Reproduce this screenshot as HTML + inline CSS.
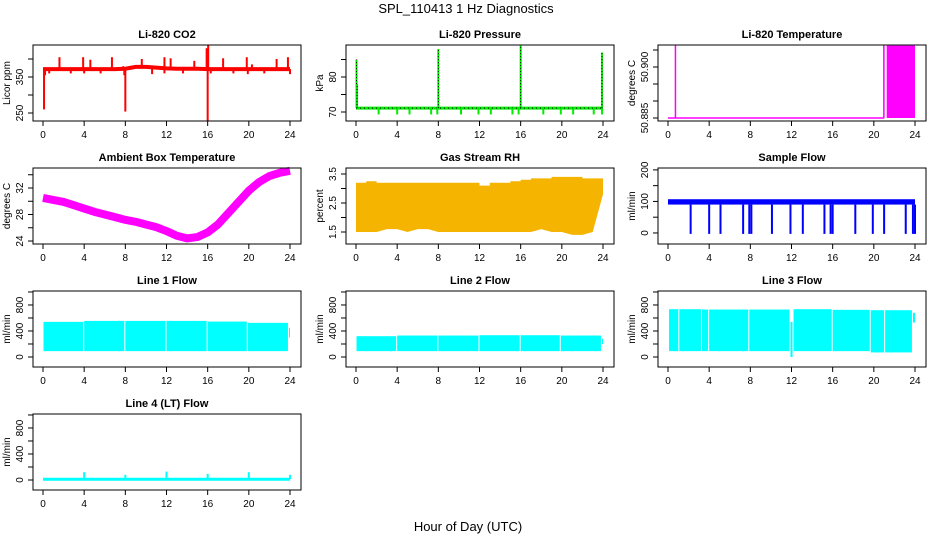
<!DOCTYPE html>
<html><head><meta charset="utf-8"><style>
body{margin:0;background:#fff;}
svg{display:block;font-family:"Liberation Sans",sans-serif;}
</style></head><body>
<svg id="chart" width="936" height="540" viewBox="0 0 936 540">
<text x="466" y="13" text-anchor="middle" font-size="13">SPL_110413  1 Hz Diagnostics</text>
<text x="468" y="531" text-anchor="middle" font-size="13">Hour of Day (UTC)</text>
</svg>
<script>
// ---- data ----
const xTicks = [0,4,8,12,16,20,24];
// CO2
const co2Base = [372,372,372,372,372,372,372,372,373,378,378,376,374,373,373,373,372,372,372,372,372,372,372,372,372];
const co2Spikes = [[0.1,260],[0.2,355],[0.6,360],[1.6,405],[2.7,360],[3.9,405],[4.0,360],[4.6,398],[5.6,360],[6.7,405],[7.8,380],[7.9,355],[8.0,254],[9.6,400],[10.6,358],[11.8,405],[11.8,360],[12.4,402],[13.6,360],[14.7,395],[15.9,430],[16.0,228],[16.05,439],[16.3,360],[17.5,402],[18.5,360],[19.8,405],[19.9,358],[20.3,385],[21.5,360],[22.7,400],[23.8,405],[24.0,358]];
// Pressure
const presBase = 71.1;
const presDips = [2.2,4.0,5.2,7.3,7.9,10.2,11.9,13.1,15.2,15.8,18.2,19.9,21.1,23.1,23.9];
const presSpikes = [[0.05,85],[0.1,78],[8.0,88],[16.0,89],[23.9,87]];
// Li-820 temperature
const tempBase = 50.885;
const tempHigh = 50.9063;
const tempBlocks = [[0.65,0.72],[20.9,21.05],[21.25,24.0]];
// Ambient
const ambient = [30.5,30.2,29.9,29.4,28.9,28.4,28.0,27.6,27.2,26.9,26.5,26.1,25.5,24.8,24.4,24.6,25.3,26.5,28.2,29.9,31.6,32.9,33.8,34.3,34.6];
// RH
const rhTop = [3.2,3.25,3.2,3.2,3.2,3.2,3.2,3.2,3.2,3.2,3.2,3.2,3.1,3.2,3.2,3.25,3.3,3.35,3.35,3.4,3.4,3.4,3.35,3.35,3.2];
const rhLow = [1.5,1.5,1.5,1.6,1.6,1.5,1.6,1.6,1.5,1.5,1.5,1.5,1.5,1.5,1.5,1.5,1.5,1.5,1.6,1.5,1.5,1.4,1.4,1.5,2.8];
// Sample flow
const sampleLow = 90, sampleHigh = 107;
const sampleDips = [2.2,4.0,5.1,7.3,7.9,8.1,10.1,11.9,13.1,15.2,15.8,16.0,18.2,19.9,21.0,23.1,23.8,24.0];
// Line flows [start, end, low, high]
const line1Segs = [[0.05,3.9,90,540],[4.0,7.9,90,555],[8.0,11.9,90,555],[12.0,15.9,90,555],[16.0,19.8,90,545],[19.9,23.8,90,525],[23.9,24.0,300,450]];
const line2Segs = [[0.05,3.9,90,320],[4.0,7.9,90,330],[8.0,11.9,90,330],[12.0,15.9,90,335],[16.0,19.8,90,335],[19.9,23.8,90,330],[23.9,24.0,200,280]];
const line3Segs = [[0.1,1.0,90,735],[1.1,3.2,90,735],[3.3,3.9,90,730],[4.0,7.8,90,730],[7.9,11.8,90,730],[11.9,12.1,0,540],[12.2,15.9,90,735],[16.0,19.6,90,725],[19.7,21.0,70,720],[21.1,23.7,70,720],[23.8,24.0,530,680]];
const line4Base = 12;
const line4Spikes = [[4.0,120],[8.0,80],[12.0,130],[16.0,95],[20.0,120],[24.0,80]];

// ---- layout ----
const NS = "http://www.w3.org/2000/svg";
const svg = document.getElementById('chart');
const colLeft = [33,346,658], rowTop = [45,168,291,414], BW = 268, BH = 76;
function mk(tag, attrs, parent){ const e=document.createElementNS(NS,tag); for(const k in attrs) e.setAttribute(k,attrs[k]); (parent||svg).appendChild(e); return e; }

function panel(c, r, title, ylab, ymin, ymax, yticks, ylabels, name){
  const L=colLeft[c], T=rowTop[r];
  const g = mk('g',{});
  
  
  const xs = h => L+10+h*(247/24);
  const ys = v => T+BH-(v-ymin)/(ymax-ymin)*BH;
  const t = mk('text',{x:L+BW/2,y:T-7,'text-anchor':'middle','font-size':11,'font-weight':'bold'},g); t.textContent=title;
  
  
  const plot = mk('g',{},g);
  const frame = mk('rect',{x:L,y:T,width:BW,height:BH,fill:'none',stroke:'#000','stroke-width':1},g);
  
  
  xTicks.forEach(h=>{
    mk('line',{x1:xs(h),x2:xs(h),y1:T+BH,y2:T+BH+5,stroke:'#000'},g);
    const tl = mk('text',{x:xs(h),y:T+BH+17,'text-anchor':'middle','font-size':10},g); tl.textContent=h;
    
    
  });
  yticks.forEach(v=>{
    mk('line',{x1:L-5,x2:L,y1:ys(v),y2:ys(v),stroke:'#000'},g);
  });
  ylabels.forEach(v=>{
    const yl = mk('text',{x:0,y:0,'text-anchor':'middle','font-size':10,transform:`translate(${L-10},${ys(v)}) rotate(-90)`},g);
    yl.textContent=v;
    
    
  });
  const yt = mk('text',{x:0,y:0,'text-anchor':'middle','font-size':10,transform:`translate(${L-23},${T+BH/2}) rotate(-90)`},g);
  yt.textContent=ylab;
  
  
  return {xs,ys,plot};
}
function vline(p,x,y1,y2,col,w){ return mk('line',{x1:x,x2:x,y1:y1,y2:y2,stroke:col,'stroke-width':w||1},p); }

// CO2
(function(){
  const P = panel(0,0,'Li-820 CO2','Licor ppm',227.8,438.9,[250,300,350,400],[250,350],'co2');
  const pts = co2Base.map((v,i)=>P.xs(i)+','+P.ys(v)).join(' ');
  const l = mk('polyline',{points:pts,fill:'none',stroke:'#ff0000','stroke-width':4},P.plot);
  
  
  co2Spikes.forEach(s=>{
    const b = co2Base[Math.min(24,Math.round(s[0]))];
    const e = vline(P.plot,P.xs(s[0]),P.ys(b),P.ys(s[1]),'#ff0000',2);
    
    
  });
})();
// Pressure
(function(){
  const P = panel(1,0,'Li-820 Pressure','kPa',67.43,89.14,[70,75,80,85],[70,80],'pressure');
  const l = mk('line',{x1:P.xs(0),x2:P.xs(24),y1:P.ys(presBase),y2:P.ys(presBase),stroke:'#00ee00','stroke-width':3},P.plot);
  
  
  mk('line',{x1:P.xs(0),x2:P.xs(24),y1:P.ys(presBase),y2:P.ys(presBase),stroke:'#000','stroke-width':1,'stroke-dasharray':'1,3'},P.plot);
  presDips.forEach(h=>{
    const e = vline(P.plot,P.xs(h),P.ys(presBase),P.ys(69.3),'#00ee00',2);
    
    
  });
  presSpikes.forEach(s=>{
    const e = vline(P.plot,P.xs(s[0]),P.ys(presBase),P.ys(s[1]),'#00ee00',2);
    
    
    vline(P.plot,P.xs(s[0]),P.ys(presBase),P.ys(s[1]),'#000',1).setAttribute('stroke-dasharray','1,2');
  });
})();
// Li-820 Temperature
(function(){
  const P = panel(2,0,'Li-820 Temperature','degrees C',50.88412,50.90647,[50.885,50.89,50.895,50.9,50.905],['50.885','50.900'],'li820-temp');
  const l = mk('line',{x1:P.xs(0),x2:P.xs(21),y1:P.ys(tempBase),y2:P.ys(tempBase),stroke:'#ff00ff','stroke-width':1.5},P.plot);
  
  
  tempBlocks.forEach(b=>{
    const r = mk('rect',{x:P.xs(b[0]),y:P.ys(tempHigh),width:Math.max(1.5,P.xs(b[1])-P.xs(b[0])),height:P.ys(tempBase)-P.ys(tempHigh),fill:'#ff00ff'},P.plot);
    
    
  });
})();
// Ambient
(function(){
  const P = panel(0,1,'Ambient Box Temperature','degrees C',23.55,35.02,[24,26,28,30,32,34],[24,28,32],'ambient-temp');
  const pts = ambient.map((v,i)=>P.xs(i)+','+P.ys(v)).join(' ');
  const l = mk('polyline',{points:pts,fill:'none',stroke:'#ff00ff','stroke-width':8,'stroke-linejoin':'round'},P.plot);
  
  
})();
// RH
(function(){
  const P = panel(1,1,'Gas Stream RH','percent',1.086,3.707,[1.5,2,2.5,3,3.5],[1.5,2.5,3.5],'rh');
  let d = 'M'+P.xs(0)+','+P.ys(rhTop[0]);
  rhTop.forEach((v,i)=>{ d+=' L'+P.xs(i)+','+P.ys(v); if(i<24) d+=' L'+P.xs(i+1)+','+P.ys(v); });
  for(let i=24;i>=0;i--){ d+=' L'+P.xs(i)+','+P.ys(rhLow[i]); }
  d+='Z';
  const a = mk('path',{d:d,fill:'#f5b400'},P.plot);
  
  
})();
// Sample flow
(function(){
  const P = panel(2,1,'Sample Flow','ml/min',-35,206,[0,50,100,150,200],[0,100,200],'sample-flow');
  const r = mk('rect',{x:P.xs(0),y:P.ys(sampleHigh),width:P.xs(24)-P.xs(0),height:P.ys(sampleLow)-P.ys(sampleHigh),fill:'#0000ff'},P.plot);
  
  
  sampleDips.forEach(h=>{
    const e = vline(P.plot,P.xs(h),P.ys(sampleLow),P.ys(-3),'#0000ff',2);
    
    
  });
})();
// Line flows
function flowPanel(c,r,title,segs,name){
  const P = panel(c,r,title,'ml/min',-154,1015,[0,200,400,600,800,1000],[0,400,800],name);
  segs.forEach(s=>{
    const e = mk('rect',{x:P.xs(s[0]),y:P.ys(s[3]),width:P.xs(s[1])-P.xs(s[0]),height:P.ys(s[2])-P.ys(s[3]),fill:'#00ffff'},P.plot);
    
    
  });
  return P;
}
flowPanel(0,2,'Line 1 Flow',line1Segs,'line1-flow');
flowPanel(1,2,'Line 2 Flow',line2Segs,'line2-flow');
flowPanel(2,2,'Line 3 Flow',line3Segs,'line3-flow');
(function(){
  const P = panel(0,3,'Line 4 (LT) Flow','ml/min',-154,1015,[0,200,400,600,800,1000],[0,400,800],'line4-flow');
  const l = mk('line',{x1:P.xs(0),x2:P.xs(24),y1:P.ys(line4Base),y2:P.ys(line4Base),stroke:'#00ffff','stroke-width':3},P.plot);
  
  
  line4Spikes.forEach(s=>{
    const e = vline(P.plot,P.xs(s[0]),P.ys(line4Base),P.ys(s[1]),'#00ffff',2);
    
    
  });
})();
</script>
</body></html>
